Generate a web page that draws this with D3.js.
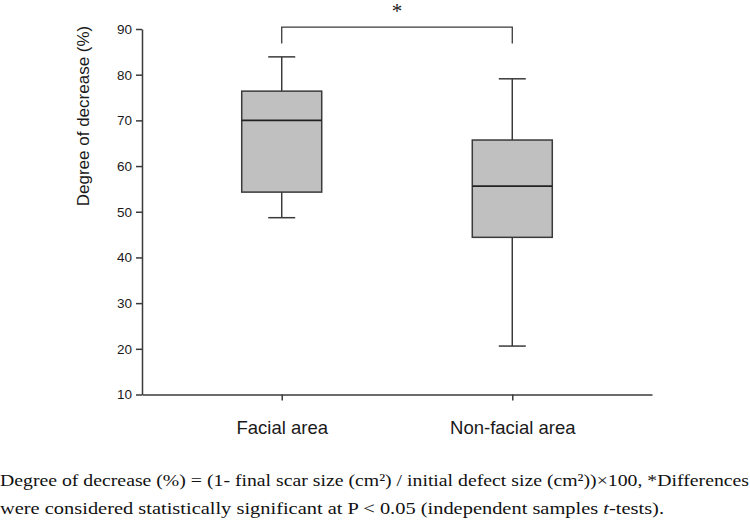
<!DOCTYPE html>
<html lang="en">
  <head>
    <meta charset="utf-8">
    <script src="https://cdn.jsdelivr.net/npm/d3@7/dist/d3.min.js"></script>
    <style>
      body {
        margin: 0;
        background: #fff;
      }
      svg {
        display: block;
      }
      .axis path,
      .axis line {
        stroke: #3a3a3a;
        stroke-width: 1.5px;
      }
      .axis text {
        fill: #1a1a1a;
        font-family: Arial, 'Liberation Sans', sans-serif;
      }
      .caption {
        font-family: 'Liberation Serif', 'Times New Roman', serif;
        font-size: 17px;
        fill: #111;
      }
    </style>
  </head>
  <body>
    <svg></svg>
  </body>
  <script>

    // Chart data
    const categories = ['Facial area', 'Non-facial area'];
    const whiskerLow = [48.7, 20.6];
    const q1 = [54.3, 44.4];
    const median = [70.0, 55.6];
    const q3 = [76.4, 65.7];
    const whiskerHigh = [83.9, 79.1];
    const yTicks = [10, 20, 30, 40, 50, 60, 70, 80, 90];
    const bracket = { top: 90.4, leg: 86.8, label: '*' };

    const width = 750;
    const height = 520;
    const margin = { top: 29, right: 98, bottom: 126, left: 142 };

    const svg = d3.select('svg')
        .attr('width', width)
        .attr('height', height);

    const g = svg.append('g')
        .attr('transform', 'translate(' + margin.left + ',' + margin.top + ')');

    const innerW = width - margin.left - margin.right;
    const innerH = height - margin.top - margin.bottom;

    const x = d3.scalePoint()
        .domain(categories)
        .range([0, innerW])
        .padding(0.606);

    const y = d3.scaleLinear()
        .domain([10, 90])
        .range([innerH + 0.5, 0]);

    // Axes
    g.append('g')
        .attr('class', 'axis')
        .call(d3.axisLeft(y).tickValues(yTicks).tickSize(6).tickSizeOuter(0).tickPadding(4))
        .selectAll('text')
        .style('font-size', '13.5px');

    g.append('g')
        .attr('class', 'axis')
        .attr('transform', 'translate(0,' + y(10) + ')')
        .call(d3.axisBottom(x).tickSize(6).tickSizeOuter(0).tickPadding(20))
        .selectAll('text')
        .style('font-size', '18.5px')
        .attr('dy', '0.71em');

    // Y axis title
    svg.append('text')
        .attr('transform', 'translate(89,116) rotate(-90)')
        .attr('text-anchor', 'middle')
        .style('font-family', 'Arial, "Liberation Sans", sans-serif')
        .style('font-size', '17px')
        .style('fill', '#1a1a1a')
        .text('Degree of decrease (%)');

    // Boxes
    const boxW = 80;
    const capW = 27;
    const stroke = '#3a3a3a';

    const boxes = g.selectAll('.box')
        .data(categories.map((c, i) => ({
          cat: c, lo: whiskerLow[i], q1: q1[i], med: median[i], q3: q3[i], hi: whiskerHigh[i]
        })))
      .enter().append('g')
        .attr('class', 'box')
        .attr('transform', d => 'translate(' + x(d.cat) + ',0)');

    // whiskers
    boxes.append('line')
        .attr('x1', 0).attr('x2', 0)
        .attr('y1', d => y(d.hi)).attr('y2', d => y(d.q3))
        .attr('stroke', stroke).attr('stroke-width', 1.5);
    boxes.append('line')
        .attr('x1', 0).attr('x2', 0)
        .attr('y1', d => y(d.q1)).attr('y2', d => y(d.lo))
        .attr('stroke', stroke).attr('stroke-width', 1.5);
    boxes.append('line')
        .attr('x1', -capW / 2).attr('x2', capW / 2)
        .attr('y1', d => y(d.hi)).attr('y2', d => y(d.hi))
        .attr('stroke', stroke).attr('stroke-width', 1.5);
    boxes.append('line')
        .attr('x1', -capW / 2).attr('x2', capW / 2)
        .attr('y1', d => y(d.lo)).attr('y2', d => y(d.lo))
        .attr('stroke', stroke).attr('stroke-width', 1.5);

    boxes.append('rect')
        .attr('x', -boxW / 2)
        .attr('width', boxW)
        .attr('y', d => y(d.q3))
        .attr('height', d => y(d.q1) - y(d.q3))
        .attr('fill', '#c0c0c0')
        .attr('stroke', stroke)
        .attr('stroke-width', 1.5);

    boxes.append('line')
        .attr('x1', -boxW / 2).attr('x2', boxW / 2)
        .attr('y1', d => y(d.med)).attr('y2', d => y(d.med))
        .attr('stroke', '#222').attr('stroke-width', 1.8);

    // Significance bracket
    const bx0 = x(categories[0]);
    const bx1 = x(categories[1]);
    g.append('path')
        .attr('d', 'M' + bx0 + ',' + y(bracket.leg) +
                   'V' + y(bracket.top) +
                   'H' + bx1 +
                   'V' + y(bracket.leg))
        .attr('fill', 'none')
        .attr('stroke', stroke)
        .attr('stroke-width', 1.3);

    svg.append('text')
        .attr('x', margin.left + (bx0 + bx1) / 2)
        .attr('y', 18)
        .attr('text-anchor', 'middle')
        .style('font-family', '"Liberation Serif", serif')
        .style('font-size', '21px')
        .style('fill', '#222')
        .text(bracket.label);

    // Caption below the chart
    svg.append('text')
        .attr('class', 'caption')
        .attr('x', 0)
        .attr('y', 486)
        .attr('textLength', 749)
        .attr('lengthAdjust', 'spacingAndGlyphs')
        .text('Degree of decrease (%) = (1- final scar size (cm\u00B2) / initial defect size (cm\u00B2))\u00D7100, *Differences');

    const cap2 = svg.append('text')
        .attr('class', 'caption')
        .attr('x', 0)
        .attr('y', 514)
        .attr('textLength', 664)
        .attr('lengthAdjust', 'spacingAndGlyphs');
    cap2.append('tspan').text('were considered statistically significant at P < 0.05 (independent samples ');
    cap2.append('tspan').style('font-style', 'italic').text('t');
    cap2.append('tspan').text('-tests).');
  </script>
</html>
